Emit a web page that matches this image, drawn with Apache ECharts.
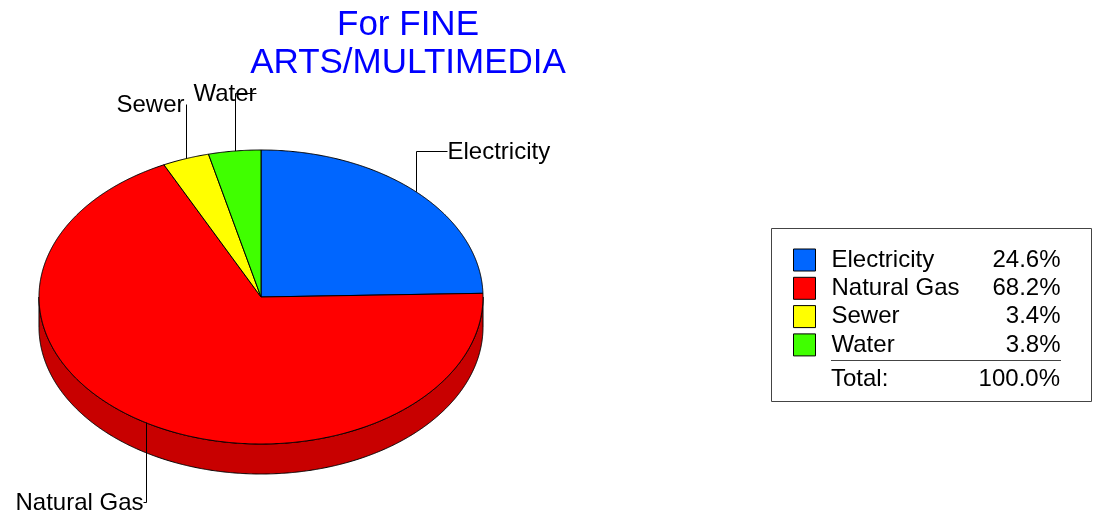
<!DOCTYPE html>
<html><head><meta charset="utf-8">
<script src="https://cdn.jsdelivr.net/npm/echarts@6/dist/echarts.min.js"></script>
<style>html,body{margin:0;padding:0;background:#fff}#c{width:1094px;height:517px}</style>
</head><body><div id="c"></div>
<script>
// ---- data ----
const categories = ['Electricity', 'Natural Gas', 'Sewer', 'Water'];
const shares = [24.6, 68.2, 3.4, 3.8];
const totalLabel = 'Total:';
const totalValue = '100.0%';
const titleText = 'For FINE\nARTS/MULTIMEDIA';

// ---- styles / layout ----
const colors = ['#0066FF', '#FF0000', '#FFFF00', '#40FF00'];
const sideColors = ['#0050C8', '#C80000', '#C8C800', '#30C800'];
const FONT = '"Liberation Sans", Arial, Helvetica, sans-serif';
const FS = 24;
const geo = { cx: 261, cy: 297, rx: 222, ry: 147, depth: 30 };
const labelLayout = [
  { endY: 151, h: 31, align: 'left' },
  { endY: 502, h: -3, align: 'right' },
  { endY: 104, h: 0, align: 'right', gap: -2 },
  { endY: 93, h: 21, align: 'right' }
];
const total = shares.reduce((a, b) => a + b, 0);
const fmtPct = v => (v / total * 100).toFixed(1) + '%';

function pt(a, dy) { return [geo.cx + geo.rx * Math.sin(a), geo.cy - geo.ry * Math.cos(a) + (dy || 0)]; }
function arc(a0, a1, dy) {
  const n = Math.max(2, Math.ceil((a1 - a0) / 0.005));
  const pts = [];
  for (let k = 0; k <= n; k++) pts.push(pt(a0 + (a1 - a0) * k / n, dy));
  return pts;
}

function makeRender(i) {
  return function (params, api) {
    const before = shares.slice(0, i).reduce((a, b) => a + b, 0);
    const a0 = before / total * 2 * Math.PI;
    const a1 = (before + api.value(0)) / total * 2 * Math.PI;
    const children = [];
    const s = Math.max(a0, Math.PI / 2), e = Math.min(a1, 3 * Math.PI / 2);
    if (e > s) {
      const top = arc(s, e, 0);
      const bot = arc(s, e, geo.depth).reverse();
      children.push({ type: 'polygon', shape: { points: top.concat(bot) },
        style: { fill: sideColors[i], stroke: '#000', lineWidth: 1 } });
    }
    children.push({ type: 'polygon', shape: { points: [[geo.cx, geo.cy]].concat(arc(a0, a1, 0)) },
      style: { fill: colors[i], stroke: '#000', lineWidth: 1 } });
    const mid = (a0 + a1) / 2;
    const p = pt(mid, 0);
    const L = labelLayout[i];
    const x = Math.round(p[0]) + 0.5;
    const pts = [[x, p[1]], [x, L.endY + 0.5], [x + L.h, L.endY + 0.5]];
    children.push({ type: 'polyline', shape: { points: pts }, style: { stroke: '#000', lineWidth: 1, fill: null } });
    children.push({ type: 'text', x: x + L.h + (L.gap || 0), y: L.endY + 1,
      style: { text: categories[i], fill: '#000', font: FS + 'px ' + FONT, align: L.align, verticalAlign: 'middle' } });
    return { type: 'group', children };
  };
}

const series = categories.map((name, i) => ({
  type: 'custom', name, coordinateSystem: 'none',
  itemStyle: { color: colors[i] },
  data: [shares[i]],
  renderItem: makeRender(i),
  silent: true
}));

const chart = echarts.init(document.getElementById('c'), null, { renderer: 'canvas' });
chart.setOption({
  animation: false,
  backgroundColor: '#fff',
  title: {
    text: titleText, left: 403, top: 1, textAlign: 'center',
    textStyle: { color: '#0000FF', fontSize: 35, fontWeight: 'normal', lineHeight: 38, fontFamily: FONT }
  },
  legend: {
    data: categories, orient: 'vertical', left: 793, top: 248, padding: 0,
    itemWidth: 22, itemHeight: 22, itemGap: 4.3, icon: 'rect', selectedMode: false,
    itemStyle: { borderColor: '#000', borderWidth: 1 },
    formatter: name => '{n|' + name + '}{p|' + fmtPct(shares[categories.indexOf(name)]) + '}',
    textStyle: {
      fontFamily: FONT, fontSize: FS, color: '#000', lineHeight: 22,
      rich: {
        n: { width: 150, height: 22, fontSize: FS, fontFamily: FONT, padding: [0, 0, 0, 11], lineHeight: 22 },
        p: { width: 79, height: 22, align: 'right', fontSize: FS, fontFamily: FONT, lineHeight: 22 }
      }
    }
  },
  graphic: [
    { type: 'rect', shape: { x: 771.5, y: 228.5, width: 320, height: 173 },
      style: { fill: null, stroke: '#444', lineWidth: 1 } },
    { type: 'line', shape: { x1: 831, y1: 360.5, x2: 1061, y2: 360.5 },
      style: { stroke: '#444', lineWidth: 1 } },
    { type: 'text', x: 831, y: 379, style: { text: totalLabel, font: FS + 'px ' + FONT, fill: '#000', verticalAlign: 'middle' } },
    { type: 'text', x: 1060, y: 379, style: { text: totalValue, font: FS + 'px ' + FONT, fill: '#000', align: 'right', verticalAlign: 'middle' } }
  ],
  series
});
</script></body></html>
